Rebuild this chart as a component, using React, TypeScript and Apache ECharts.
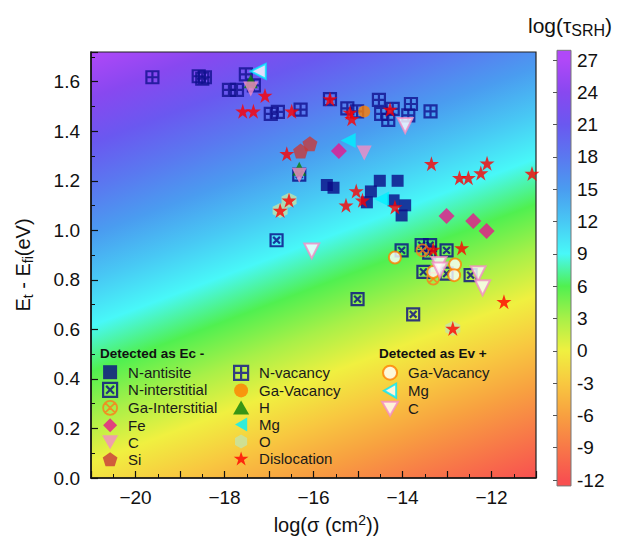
import { useEffect, useRef } from 'react';
import * as echarts from 'echarts';

const FONT = "'Liberation Sans', Arial, Helvetica, sans-serif";

// ---- axes ----
const X_RANGE = [-21, -11];
const Y_RANGE = [0, 1.72];
const TAU_AXIS = [-12, 27];
const BAR_EXTENT = [-12.55, 27.9];
const xTickLabels = [-20, -18, -16, -14, -12];
const yTickLabels = [0, 0.2, 0.4, 0.6, 0.8, 1.0, 1.2, 1.4, 1.6];

// ---- colour scale of log(tau_SRH) ----
const tauStops = [-12, -9, -6, -3, 0, 3, 6, 9, 12, 15, 18, 21, 24, 27];
const tauColors = ['#f85050', '#f87848', '#f8a040', '#f8c840', '#f0f040', '#a8f048', '#50f050', '#48f8f8', '#48c8f4', '#4a9cf0', '#5a78f0', '#6a58f0', '#8848f0', '#b048f8'];

// background field: log(tau) = TAU0 + TAU_PER_DECADE*(x - xmin) + TAU_PER_EV*y
const TAU0 = -1;
const TAU_PER_DECADE = -1.1;
const TAU_PER_EV = 16.28;

// ---- data: [log(sigma), Et - Efi] ----
const nAntisite = [[-15.70, 1.183], [-15.55, 1.172], [-14.51, 1.200], [-14.11, 1.200], [-14.71, 1.157], [-14.80, 1.113], [-14.20, 1.121], [-13.94, 1.101], [-14.02, 1.060]];
const nInterstitial = [[-16.83, 0.960], [-16.32, 1.225], [-14.02, 0.919], [-13.57, 0.940], [-13.38, 0.940], [-13.40, 0.910], [-13.01, 0.919], [-13.53, 0.832], [-13.01, 0.825], [-12.47, 0.819], [-15.01, 0.722], [-13.76, 0.661]];
const nVacancy = [[-19.62, 1.618], [-18.58, 1.622], [-18.50, 1.612], [-18.44, 1.618], [-17.52, 1.630], [-17.90, 1.567], [-17.72, 1.567], [-17.34, 1.585], [-16.96, 1.470], [-16.80, 1.478], [-16.29, 1.487], [-15.63, 1.530], [-15.24, 1.492], [-15.02, 1.480], [-14.53, 1.527], [-14.48, 1.470], [-14.32, 1.446], [-14.22, 1.490], [-13.81, 1.510], [-13.87, 1.464], [-13.37, 1.480]];
const gaInterstitial = [[-13.55, 0.919], [-13.31, 0.805]];
const gaVacancyEc = [[-14.86, 1.480]];
const fe = [[-15.43, 1.320], [-13.01, 1.058], [-12.41, 1.038], [-12.11, 0.997]];
const cEc = [[-17.41, 1.571], [-14.86, 1.312], [-16.32, 1.222]];
const si = [[-16.08, 1.350], [-16.29, 1.320]];
const h = [[-17.41, 1.602], [-16.32, 1.249]];
const mgEc = [[-15.22, 1.363], [-14.47, 1.126]];
const o = [[-16.55, 1.121], [-16.75, 1.080], [-12.87, 0.604]];
const dislocation = [[-17.09, 1.544], [-17.59, 1.481], [-17.35, 1.481], [-16.49, 1.481], [-15.63, 1.530], [-15.18, 1.476], [-15.14, 1.450], [-14.28, 1.488], [-16.60, 1.309], [-13.35, 1.269], [-12.72, 1.212], [-12.52, 1.212], [-12.24, 1.231], [-12.10, 1.271], [-11.09, 1.229], [-16.55, 1.121], [-16.75, 1.080], [-15.04, 1.159], [-15.27, 1.101], [-14.90, 1.121], [-14.17, 1.094], [-13.31, 0.923], [-12.67, 0.929], [-11.72, 0.712], [-12.87, 0.604]];
const gaVacancyEv = [[-14.17, 0.890], [-13.31, 0.832], [-12.82, 0.862], [-12.84, 0.819]];
const mgEv = [[-17.24, 1.642]];
const cEv = [[-13.94, 1.423], [-16.04, 0.917], [-13.18, 0.862], [-13.16, 0.840], [-12.30, 0.825], [-12.20, 0.768]];

const ecLegend1 = ['N-antisite', 'N-interstitial', 'Ga-Interstitial', 'Fe', 'C', 'Si'];
const ecLegend2 = ['N-vacancy', 'Ga-Vacancy', 'H', 'Mg', 'O', 'Dislocation'];
const EV = ' (Ev+)';
const evLegend = ['Ga-Vacancy' + EV, 'Mg' + EV, 'C' + EV];

const SYM = {
  square: 'path://M0,0L10,0L10,10L0,10Z',
  boxX: 'path://M0,0L10,0L10,10L0,10Z M2.2,2.2L7.8,7.8 M7.8,2.2L2.2,7.8',
  boxPlus: 'path://M0,0L10,0L10,10L0,10Z M5,0L5,10 M0,5L10,5',
  circle: 'path://M0,5A5,5,0,1,1,10,5A5,5,0,1,1,0,5Z',
  circleX: 'path://M0,5A5,5,0,1,1,10,5A5,5,0,1,1,0,5Z M1.5,1.5L8.5,8.5 M8.5,1.5L1.5,8.5',
  diamond: 'path://M5,0L10,5L5,10L0,5Z',
  triDown: 'path://M0,0L10,0L5,8.7Z',
  triUp: 'path://M5,0L10,8.7L0,8.7Z',
  triLeft: 'path://M8.7,0L8.7,10L0,5Z',
  pentagon: 'path://M5,0L9.755,3.455L7.939,9.045L2.061,9.045L0.245,3.455Z',
  hexagon: 'path://M5,0L9.33,2.5L9.33,7.5L5,10L0.67,7.5L0.67,2.5Z',
  star: 'path://M5,0L6.123,3.455L9.755,3.455L6.816,5.59L7.939,9.045L5,6.91L2.061,9.045L3.184,5.59L0.245,3.455L3.877,3.455Z',
};

const GRID = { left: 91, top: 52, width: 445, height: 426 };
const CBAR = { left: 557, top: 60, width: 14, height: 420 };

const minus = (v: number) => (v < 0 ? '\u2212' + Math.abs(v) : String(v));

function sc(name: string, data: number[][], symbol: string, size: number, itemStyle: any) {
  return {
    type: 'scatter', name, data, symbol, symbolSize: size, itemStyle,
    xAxisIndex: 0, yAxisIndex: 0, emphasis: { disabled: true }, silent: true,
  };
}

export default function App() {
  const ref = useRef<HTMLDivElement>(null);
  useEffect(() => {
    document.body.style.margin = '0';
    const chart = echarts.init(ref.current!, null, { renderer: 'svg' });

    const span = BAR_EXTENT[1] - BAR_EXTENT[0];
    const stops = [{ offset: 0, color: tauColors[0] }].concat(
      tauStops.map((v, i) => ({ offset: (v - BAR_EXTENT[0]) / span, color: tauColors[i] })),
      [{ offset: 1, color: tauColors[tauColors.length - 1] }],
    );

    // background gradient direction from the field model
    const kx = GRID.width / (X_RANGE[1] - X_RANGE[0]);
    const ky = GRID.height / (Y_RANGE[1] - Y_RANGE[0]);
    const tau = (x: number, y: number) => TAU0 + TAU_PER_DECADE * (x - X_RANGE[0]) + TAU_PER_EV * y;
    const gx = TAU_PER_DECADE / kx;
    const gy = -TAU_PER_EV / ky;
    const gm = Math.hypot(gx, gy);
    const ux = gx / gm, uy = gy / gm;
    const bx = GRID.left + GRID.width, by = GRID.top + GRID.height;
    const t0 = tau(X_RANGE[1], Y_RANGE[0]);
    const s0 = (BAR_EXTENT[0] - t0) / gm;
    const p0x = bx + s0 * ux, p0y = by + s0 * uy;
    const s1 = span / gm;
    const bg = { type: 'linear', x: p0x, y: p0y, x2: p0x + s1 * ux, y2: p0y + s1 * uy, global: true, colorStops: stops };
    const barBg = { type: 'linear', x: 0, y: 1, x2: 0, y2: 0, colorStops: stops };

    // colour bar rectangle from its axis mapping
    const cbY = (v: number) => CBAR.top + ((TAU_AXIS[1] - v) / (TAU_AXIS[1] - TAU_AXIS[0])) * CBAR.height;
    const barTop = cbY(BAR_EXTENT[1]);
    const barBottom = cbY(BAR_EXTENT[0]);

    const navy = '#0a0a86';
    const legendBase = {
      orient: 'vertical', top: 364.7, itemWidth: 26, itemHeight: 14, itemGap: 2, padding: 0,
      selectedMode: false, symbolKeepAspect: true,
      itemStyle: { borderWidth: 'inherit' },
      textStyle: { fontSize: 15, color: '#1a1a1a', fontFamily: FONT },
    };
    const axisFont = { fontSize: 19, color: '#111', fontFamily: FONT };

    chart.setOption({
      animation: false,
      textStyle: { fontFamily: FONT },
      grid: [
        { ...GRID, show: true, backgroundColor: bg, borderColor: '#222', borderWidth: 1.2 },
        { ...CBAR, show: false },
      ],
      xAxis: [
        {
          type: 'value', gridIndex: 0, min: X_RANGE[0], max: X_RANGE[1], interval: 1,
          axisLine: { show: true, lineStyle: { color: '#111', width: 1.5 } },
          axisTick: { show: true, inside: true, length: 7, lineStyle: { color: '#111', width: 1.2 } },
          minorTick: { show: true, splitNumber: 2, length: 4, lineStyle: { color: '#111', width: 1 } },
          splitLine: { show: false },
          axisLabel: { ...axisFont, margin: 10, formatter: (v: number) => (xTickLabels.some((t) => Math.abs(t - v) < 1e-6) ? minus(v) : '') },
          name: '{a|log(σ (cm}{c|2}{a|))}', nameLocation: 'middle', nameGap: 35,
          nameTextStyle: {
            padding: [0, 0, 0, 26],
            rich: {
              a: { fontSize: 20, lineHeight: 24, color: '#111', fontFamily: FONT },
              c: { fontSize: 14, lineHeight: 14, verticalAlign: 'top', color: '#111', fontFamily: FONT },
            },
          },
        },
        { type: 'value', gridIndex: 1, min: 0, max: 1, show: false },
      ],
      yAxis: [
        {
          type: 'value', gridIndex: 0, min: Y_RANGE[0], max: Y_RANGE[1], interval: 0.2,
          axisLine: { show: true, lineStyle: { color: '#111', width: 1.5 } },
          axisTick: { show: true, inside: true, length: 7, lineStyle: { color: '#111', width: 1.2 } },
          minorTick: { show: true, splitNumber: 2, length: 4, lineStyle: { color: '#111', width: 1 } },
          splitLine: { show: false },
          axisLabel: { ...axisFont, margin: 11, formatter: (v: number) => (yTickLabels.some((t) => Math.abs(t - v) < 1e-6) ? v.toFixed(1) : '') },
          name: '{a|E}{b|t}{a| - E}{b|fi}{a|(eV)}', nameLocation: 'middle', nameGap: 56,
          nameTextStyle: {
            rich: {
              a: { fontSize: 20, lineHeight: 24, color: '#111', fontFamily: FONT },
              b: { fontSize: 14, lineHeight: 14, verticalAlign: 'bottom', color: '#111', fontFamily: FONT },
            },
          },
        },
        {
          type: 'value', gridIndex: 1, min: TAU_AXIS[0], max: TAU_AXIS[1], interval: 3, position: 'right',
          axisLine: { show: false },
          axisTick: { show: true, inside: true, length: 4, lineStyle: { color: '#555', width: 1 } },
          splitLine: { show: false },
          axisLabel: { ...axisFont, margin: 6 },
        },
      ],
      legend: [
        { ...legendBase, left: 102, data: ecLegend1 },
        { ...legendBase, left: 233, data: ecLegend2 },
        { ...legendBase, left: 381, data: evLegend, formatter: (n: string) => n.replace(EV, '') },
      ],
      graphic: [
        {
          type: 'rect', z: -1, silent: true,
          shape: { x: CBAR.left, y: barTop, width: CBAR.width, height: barBottom - barTop },
          style: { fill: barBg, stroke: '#777', lineWidth: 1 },
        },
        { type: 'text', x: 100, y: 353, style: { text: 'Detected as Ec -', font: `bold 13.5px ${FONT}`, fill: '#111', verticalAlign: 'middle' } },
        { type: 'text', x: 379, y: 353, style: { text: 'Detected as Ev +', font: `bold 13.5px ${FONT}`, fill: '#111', verticalAlign: 'middle' } },
        {
          type: 'text', x: 528, y: 25,
          style: {
            text: '{a|log(τ}{b|SRH}{a|)}', verticalAlign: 'middle',
            rich: {
              a: { fontSize: 21, lineHeight: 26, fill: '#111', fontFamily: FONT },
              b: { fontSize: 16, lineHeight: 16, verticalAlign: 'bottom', fill: '#111', fontFamily: FONT },
            },
          },
        },
      ],
      series: [
        sc('N-antisite', nAntisite, SYM.square, 12, { color: navy }),
        sc('N-interstitial', nInterstitial, SYM.boxX, 12, { color: 'rgba(0,0,0,0)', borderColor: navy, borderWidth: 2.2 }),
        sc('N-vacancy', nVacancy, SYM.boxPlus, 12, { color: 'rgba(0,0,0,0)', borderColor: '#10108e', borderWidth: 2.2 }),
        sc('Ga-Interstitial', gaInterstitial, SYM.circleX, 12, { color: 'rgba(0,0,0,0)', borderColor: '#ff7a1a', borderWidth: 1.8 }),
        sc('Ga-Vacancy', gaVacancyEc, SYM.circle, 12, { color: '#ff8000' }),
        sc('Fe', fe, SYM.diamond, 16, { color: '#e8158c' }),
        sc('H', h, SYM.triUp, 14, { color: '#0a800a' }),
        sc('C', cEc, SYM.triDown, 15, { color: '#f48cc4' }),
        sc('Si', si, SYM.pentagon, 15, { color: '#c83a3a' }),
        sc('Mg', mgEc, SYM.triLeft, 15, { color: '#00f0ff' }),
        sc('O', o, SYM.hexagon, 15, { color: '#c4e4a8' }),
        sc('Dislocation', dislocation, SYM.star, 15, { color: '#ff0000' }),
        sc('Ga-Vacancy' + EV, gaVacancyEv, SYM.circle, 12, { color: '#ffffff', borderColor: '#ff8000', borderWidth: 2 }),
        sc('Mg' + EV, mgEv, SYM.triLeft, 15, { color: '#ffffff', borderColor: '#00e8ff', borderWidth: 2 }),
        sc('C' + EV, cEv, SYM.triDown, 15, { color: '#ffffff', borderColor: '#f48cc4', borderWidth: 2 }),
      ],
    });
    return () => chart.dispose();
  }, []);
  return <div ref={ref} style={{ position: 'absolute', left: 0, top: 0, width: 637, height: 542 }} />;
}
